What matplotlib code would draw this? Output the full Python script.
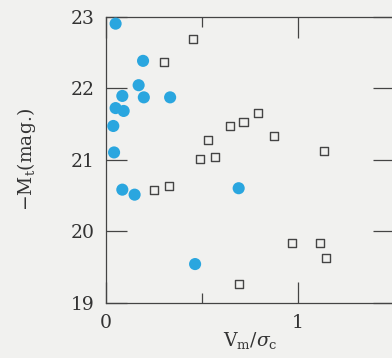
import matplotlib
matplotlib.use("Agg")
import matplotlib.pyplot as plt
from matplotlib.ticker import MultipleLocator

# blue filled circles
circ_x = [0.05, 0.193, 0.17, 0.085, 0.197, 0.334, 0.05, 0.092, 0.038, 0.042,
          0.085, 0.149, 0.464, 0.691]
circ_y = [22.90, 22.38, 22.04, 21.89, 21.87, 21.87, 21.72, 21.68, 21.47, 21.10,
          20.58, 20.51, 19.54, 20.60]

# open squares
sq_x = [0.304, 0.451, 0.792, 0.716, 0.647, 0.877, 0.533, 0.488, 0.570, 1.134,
        0.248, 0.326, 0.970, 1.115, 1.146, 0.694]
sq_y = [22.36, 22.68, 21.65, 21.53, 21.47, 21.33, 21.27, 21.01, 21.04, 21.12,
        20.58, 20.63, 19.83, 19.83, 19.63, 19.26]

BG = "#f1f1ef"
BLUE = "#2aa6df"
INK = "#444444"

plt.rcParams.update({"font.family": "DejaVu Serif", "mathtext.fontset": "dejavuserif"})

W, H = 392, 358
fig = plt.figure(figsize=(W / 100, H / 100), dpi=100, facecolor=BG)
ax = fig.add_axes([106 / W, (H - 302.7) / H, 288 / W, (302.7 - 16.5) / H])
ax.set_facecolor(BG)

ax.scatter(circ_x, circ_y, s=76, color=BLUE, edgecolors="none", zorder=3, clip_on=False)
ax.scatter(sq_x, sq_y, s=34, marker="s", facecolors="none", edgecolors=INK,
           linewidths=1.0, zorder=3)

ax.set_xlim(0, 1.5)
ax.set_ylim(19, 23)
ax.xaxis.set_major_locator(MultipleLocator(1))
ax.xaxis.set_minor_locator(MultipleLocator(0.5))
ax.yaxis.set_major_locator(MultipleLocator(1))

ax.tick_params(which="both", direction="in", top=True, right=True, color=INK,
               width=0.9, labelsize=13.5, labelcolor="#333333")
ax.tick_params(which="major", length=15)
ax.tick_params(which="minor", length=7.5)
ax.tick_params(axis="x", pad=8)
ax.tick_params(axis="y", pad=8)
for s in ax.spines.values():
    s.set_color(INK)
    s.set_linewidth(0.9)

ax.set_xlabel(r"V$_{\mathrm{m}}$/$\sigma_{\mathrm{c}}$", fontsize=13.5, color="#333333",
              labelpad=-1)
ax.set_ylabel(r"$-$M$_{\mathrm{t}}$(mag.)", fontsize=13.5, color="#333333", labelpad=24)

fig.savefig("out.png", dpi=100, facecolor=BG)
